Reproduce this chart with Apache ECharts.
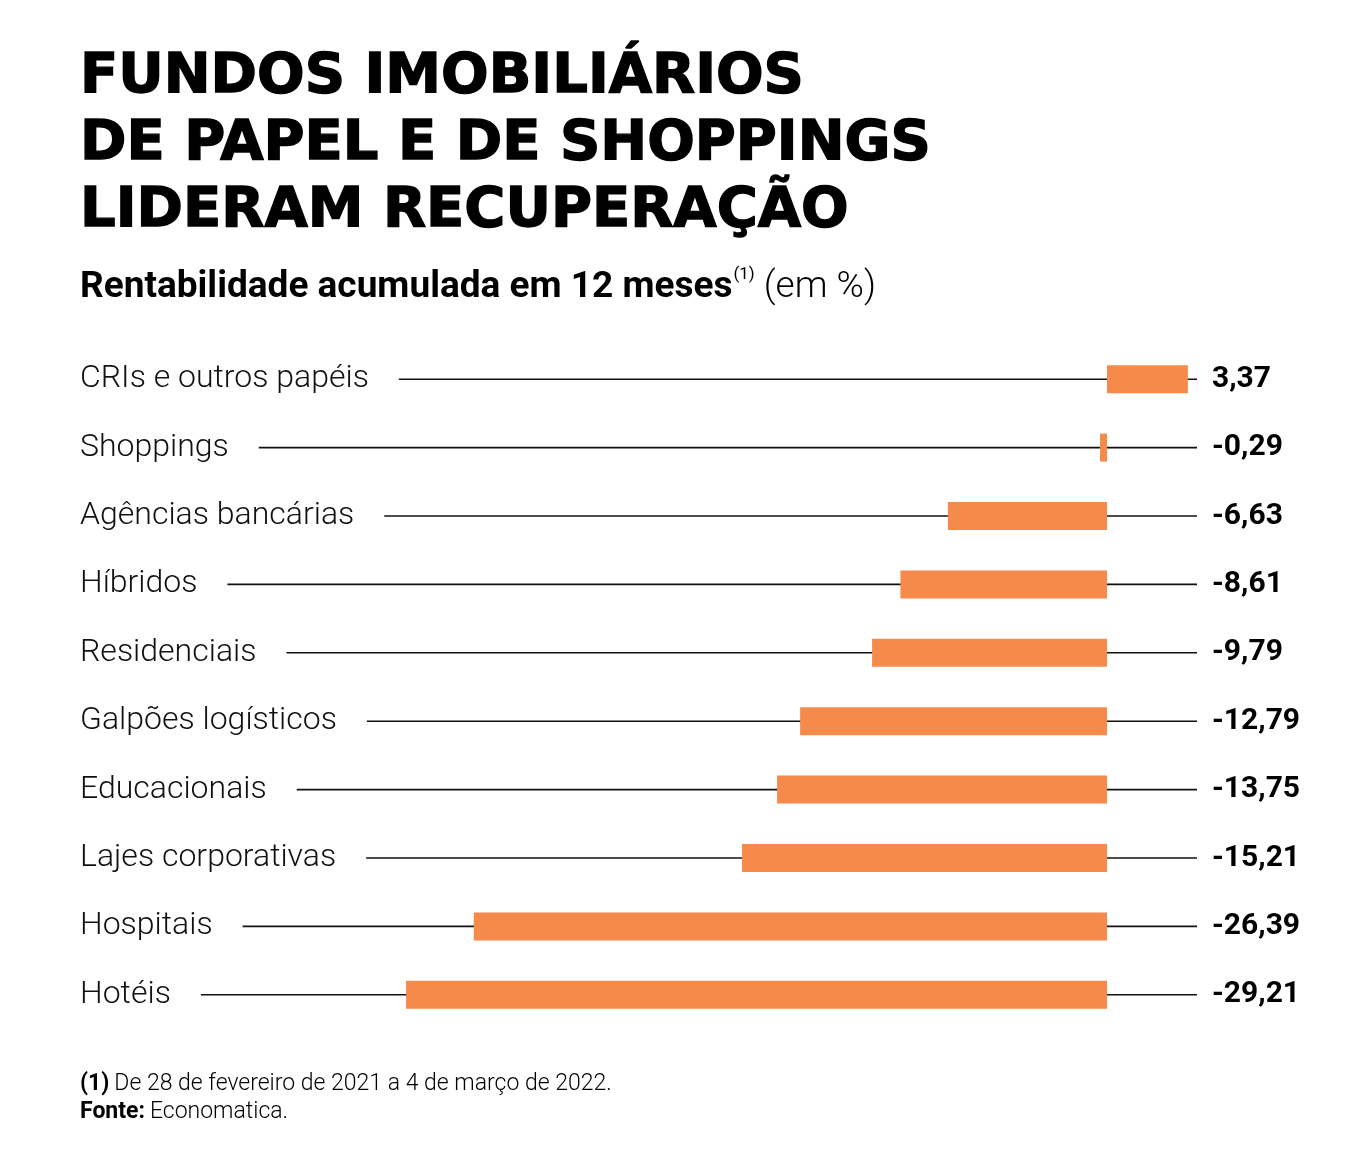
<!DOCTYPE html>
<html><head><meta charset="utf-8">
<script src="https://cdn.jsdelivr.net/npm/echarts@6/dist/echarts.min.js"></script>
<style>html,body{margin:0;padding:0;background:#fff}#c{width:1365px;height:1155px}</style>
</head><body><div id="c"></div>
<script>
const categories = ["CRIs e outros papéis","Shoppings","Agências bancárias","Híbridos","Residenciais","Galpões logísticos","Educacionais","Lajes corporativas","Hospitais","Hotéis"];
const values = [3.37,-0.29,-6.63,-8.61,-9.79,-12.79,-13.75,-15.21,-26.39,-29.21];
const titleText = "FUNDOS IMOBILIÁRIOS\nDE PAPEL E DE SHOPPINGS\nLIDERAM RECUPERAÇÃO";
const fmt = v => v.toFixed(2).replace('.', ',');

const chart = echarts.init(document.getElementById('c'), null, {renderer:'canvas'});
chart.setOption({
  backgroundColor:'#fff',
  animation:false,
  title:[
    {text:titleText, left:75, top:39, textStyle:{fontFamily:'DejaVu Sans', fontWeight:'bold', fontSize:56, lineHeight:67, color:'#000', textBorderColor:'#000', textBorderWidth:1.4}},
    {text:'{b|Rentabilidade acumulada em 12 meses}{s|(1)}{r| (em %)}', left:75, top:261,
      textStyle:{rich:{
        b:{fontFamily:'Roboto', fontWeight:700, fontSize:37, color:'#000', lineHeight:44},
        s:{fontFamily:'Roboto', fontWeight:400, fontSize:17, color:'#000', verticalAlign:'top', lineHeight:44, padding:[0,0,18,1]},
        r:{fontFamily:'Roboto', fontWeight:300, fontSize:37, color:'#000', lineHeight:44}
      }}},
    {text:'{b|(1)} {n|De 28 de fevereiro de 2021 a 4 de março de 2022.}\n{b|Fonte:} {n|Economatica.}', left:75, top:1065,
      textStyle:{rich:{
        b:{fontFamily:'Roboto', fontWeight:700, fontSize:23, color:'#000', lineHeight:28},
        n:{fontFamily:'Roboto', fontWeight:300, fontSize:23, color:'#000', lineHeight:28}
      }}}
  ],
  grid:{left:80, right:168, top:345, bottom:126, containLabel:false},
  xAxis:{type:'value', min:-42.8, max:3.75, show:false, splitLine:{show:false}},
  yAxis:[
    {type:'category', data:categories, inverse:true, z:10, position:'left',
      axisLine:{show:false}, axisTick:{show:false}, splitLine:{show:false},
      axisLabel:{inside:true, margin:0, align:'left', fontFamily:'Roboto', fontWeight:300, fontSize:32, color:'#111',
        backgroundColor:'#fff', padding:[4,30,4,0]}},
    {type:'category', data:categories, inverse:true, position:'right',
      axisLine:{show:false}, axisTick:{show:false}, splitLine:{show:false},
      axisLabel:{margin:15, align:'left', fontFamily:'Roboto', fontWeight:700, fontSize:30, color:'#000',
        formatter:(v,i)=>fmt(values[i])}}
  ],
  series:[
    {type:'custom', z:1, silent:true,
      data:categories.map(c=>[0,c]), encode:{x:0,y:1},
      renderItem:(params, api)=>{
        const y = api.coord([0, api.value(1)])[1];
        const cs = params.coordSys;
        return {type:'line', shape:{x1:cs.x, y1:y, x2:cs.x+cs.width, y2:y}, style:{stroke:'#111', lineWidth:1.6}};
      }},
    {type:'bar', z:3, data:values, barWidth:28, itemStyle:{color:'#F68A4A'}, silent:true}
  ]
});
</script></body></html>
